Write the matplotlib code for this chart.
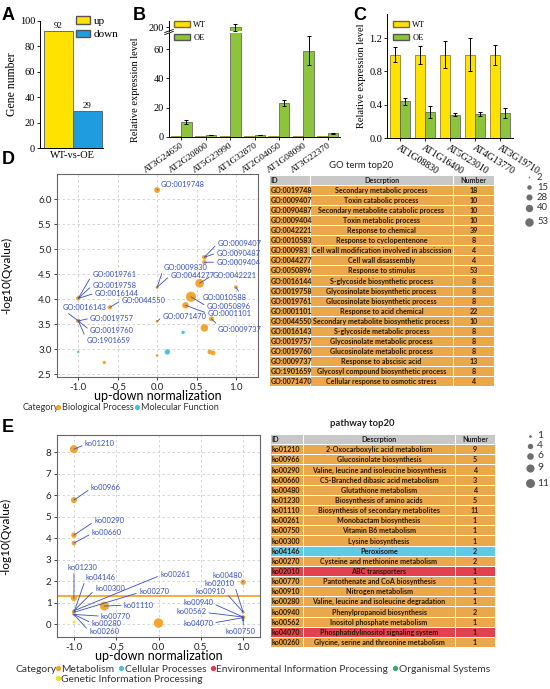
import matplotlib
matplotlib.use("Agg")
import matplotlib.pyplot as plt
from matplotlib.patches import Rectangle, Patch
from matplotlib.lines import Line2D

# ---------------- DATA ----------------
# Panel A
a_group = ["WT-vs-OE"]
a_series = ["up", "down"]
a_values = [92, 29]

# Panel B
b_genes = ["AT3G24650", "AT2G20800", "AT5G23990", "AT1G32870", "AT2G04050", "AT1G08090", "AT3G22370"]
b_wt = [1.0, 1.0, 1.0, 1.0, 1.0, 1.0, 1.0]
b_wt_err = [0.1, 0.1, 0.1, 0.1, 0.1, 0.1, 0.1]
b_oe = [10.5, 1.4, 200.0, 1.5, 23.0, 59.0, 2.6]
b_oe_err = [1.3, 0.2, 4.0, 0.2, 2.0, 10.0, 0.4]

# Panel C
c_genes = ["AT1G08830", "AT1G16400", "AT5G23010", "AT4G13770", "AT3G19710"]
c_wt = [1.0, 1.0, 1.0, 1.0, 1.0]
c_wt_err = [0.09, 0.11, 0.16, 0.20, 0.12]
c_oe = [0.44, 0.31, 0.28, 0.29, 0.30]
c_oe_err = [0.04, 0.07, 0.015, 0.025, 0.055]

# Panel D scatter
go_labels = ["GO:0019748", "GO:0009407", "GO:0090487", "GO:0009404", "GO:0042221",
             "GO:0010588", "GO:0009830", "GO:0044277", "GO:0050896", "GO:0016144",
             "GO:0019758", "GO:0019761", "GO:0001101", "GO:0044550", "GO:0016143",
             "GO:0019757", "GO:0019760", "GO:0009737", "GO:1901659", "GO:0071470",
             "", "", "", "", "", "", "", ""]
go_x = [0.0, 0.6, 0.6, 0.6, 0.54, 1.0, 0.0, 0.0, 0.43, -1.0,
        -1.0, -1.0, 0.36, -0.6, -1.0, -1.0, -1.0, 0.69, -1.0, 0.0,
        0.6, 0.33, 0.13, -1.0, 0.0, 0.67, 0.71, -0.67]
go_y = [6.18, 4.84, 4.84, 4.74, 4.32, 4.24, 4.24, 4.24, 4.05, 4.02,
        4.02, 4.02, 3.88, 3.84, 3.57, 3.57, 3.57, 3.61, 3.57, 3.56,
        3.43, 3.34, 2.95, 2.95, 2.88, 2.95, 2.93, 2.74]
go_count = [18, 10, 10, 10, 39, 8, 4, 4, 53, 8,
            8, 8, 22, 10, 8, 8, 8, 13, 8, 4,
            30, 6, 15, 3, 4, 12, 12, 6]
go_cat = ["Biological Process"] * 20 + ["Biological Process", "Molecular Function",
          "Molecular Function", "Molecular Function", "Biological Process",
          "Biological Process", "Biological Process", "Biological Process"]
go_size_legend = [2, 15, 28, 40, 53]

# Panel D table
go_table_id = ["GO:0019748", "GO:0009407", "GO:0090487", "GO:0009404", "GO:0042221",
               "GO:0010583", "GO:000983", "GO:0044277", "GO:0050896", "GO:0016144",
               "GO:0019758", "GO:0019761", "GO:0001101", "GO:0044550", "GO:0016143",
               "GO:0019757", "GO:0019760", "GO:0009737", "GO:1901659", "GO:0071470"]
go_table_desc = ["Secondary metabolic process", "Toxin catabolic process",
                 "Secondary metabolite catabolic process", "Toxin metabolic process",
                 "Response to chemical", "Response to cyclopentenone",
                 "Cell wall modification involved in abscission", "Cell wall disassembly",
                 "Response to stimulus", "S-glycoside biosynthetic process",
                 "Glycosinolate biosynthetic process", "Glucosinolate biosynthetic process",
                 "Response to acid chemical", "Secondary metabolite biosynthetic process",
                 "S-glycoside metabolic process", "Glycosinolate metabolic process",
                 "Glucosinolate metabolic process", "Response to abscisic acid",
                 "Glycosyl compound biosynthetic process", "Cellular response to osmotic stress"]
go_table_num = [18, 10, 10, 10, 39, 8, 4, 4, 53, 8, 8, 8, 22, 10, 8, 8, 8, 13, 8, 4]

# Panel E scatter
ko_labels = ["ko01210", "ko00966", "ko00290", "ko00660", "ko00480", "ko01230", "ko01110",
             "ko00261", "ko00750", "ko00300", "ko04146", "ko00270", "ko02010", "ko00770",
             "ko00910", "ko00280", "ko00940", "ko00562", "ko04070", "ko00260", "", "", ""]
ko_x = [-1.0, -1.0, -1.0, -1.0, 1.0, -1.0, -0.64, -1.0, 1.0, -1.0, -1.0, -1.0, 1.0, -1.0,
        1.0, -1.0, 1.0, 1.0, 1.0, -1.0, 0.0, -1.0, 1.0]
ko_y = [8.14, 5.77, 4.14, 3.77, 1.95, 1.21, 0.84, 0.62, 0.33, 0.62, 0.55, 0.55, 0.56, 0.45,
        0.56, 0.45, 0.33, 0.33, 0.30, 0.45, 0.05, 0.10, 0.20]
ko_count = [9, 5, 4, 3, 4, 5, 11, 1, 1, 1, 2, 2, 1, 1, 1, 1, 2, 1, 1, 1, 12, 1, 1]
ko_cat = ["Metabolism", "Metabolism", "Metabolism", "Metabolism", "Metabolism", "Metabolism",
          "Metabolism", "Metabolism", "Metabolism", "Metabolism", "Cellular Processes",
          "Metabolism", "Environmental Information Processing", "Metabolism", "Metabolism",
          "Metabolism", "Metabolism", "Metabolism", "Environmental Information Processing",
          "Metabolism", "Metabolism", "Genetic Information Processing", "Organismal Systems"]
ko_size_legend = [1, 4, 6, 9, 11]
ko_threshold = 1.3

# Panel E table
ko_table_id = ["ko01210", "ko00966", "ko00290", "ko00660", "ko00480", "ko01230", "ko01110",
               "ko00261", "ko00750", "ko00300", "ko04146", "ko00270", "ko02010", "ko00770",
               "ko00910", "ko00280", "ko00940", "ko00562", "ko04070", "ko00260"]
ko_table_desc = ["2-Oxocarboxylic acid metabolism", "Glucosinolate biosynthesis",
                 "Valine, leucine and isoleucine biosynthesis", "C5-Branched dibasic acid metabolism",
                 "Glutathione metabolism", "Biosynthesis of amino acids",
                 "Biosynthesis of secondary metabolites", "Monobactam biosynthesis",
                 "Vitamin B6 metabolism", "Lysine biosynthesis", "Peroxisome",
                 "Cysteine and methionine metabolism", "ABC transporters",
                 "Pantothenate and CoA biosynthesis", "Nitrogen metabolism",
                 "Valine, leucine and isoleucine degradation", "Phenylpropanoid biosynthesis",
                 "Inositol phosphate metabolism", "Phosphatidylinositol signaling system",
                 "Glycine, serine and threonine metabolism"]
ko_table_num = [9, 5, 4, 3, 4, 5, 11, 1, 1, 1, 2, 2, 1, 1, 1, 1, 2, 1, 1, 1]
ko_table_cat = ["Metabolism"] * 10 + ["Cellular Processes", "Metabolism",
                "Environmental Information Processing", "Metabolism", "Metabolism",
                "Metabolism", "Metabolism", "Metabolism",
                "Environmental Information Processing", "Metabolism"]

# ---------------- STYLE / LAYOUT ----------------
W, H = 550, 689
fig = plt.figure(figsize=(W / 100, H / 100), dpi=100)
SERIF = ["Liberation Serif", "DejaVu Serif"]
SANS = ["Lato", "DejaVu Sans"]
BOLD = ["Liberation Sans", "DejaVu Sans"]

YEL = "#ffe200"
BLUE = "#1f9be0"
GRN = "#8cc43c"
ORANGE = "#f3a531"
CYAN = "#48c3e6"
RED = "#e8384f"
GREEN = "#2fae6e"
YELC = "#f0e41c"
LBL = "#3550c0"
cat_colors = {"Biological Process": ORANGE, "Molecular Function": CYAN,
              "Metabolism": ORANGE, "Cellular Processes": CYAN,
              "Environmental Information Processing": RED,
              "Organismal Systems": GREEN, "Genetic Information Processing": YELC}
table_colors = {"Metabolism": "#eaa84a", "Cellular Processes": "#5ec9ea",
                "Environmental Information Processing": "#e2424f",
                "Biological Process": "#eaa84a"}


def px_axes(x0, y0, x1, y1, **kw):
    return fig.add_axes([x0 / W, 1 - y1 / H, (x1 - x0) / W, (y1 - y0) / H], **kw)


def ftext(x, y, s, **kw):
    fig.text(x / W, 1 - y / H, s, **kw)


def serif_ticks(ax, size=7):
    for t in ax.get_xticklabels() + ax.get_yticklabels():
        t.set_fontfamily(SERIF)
        t.set_fontsize(size)


# ---------------- Panel A ----------------
axA = px_axes(40, 21, 103, 148)
xa = [-0.2, 0.2]
axA.bar(xa, a_values, width=0.4, color=[YEL, BLUE], edgecolor="#555555", linewidth=0.6)
for x, v in zip(xa, a_values):
    axA.text(x, v + 1.2, str(v), ha="center", va="bottom", fontsize=6.5, family=SERIF)
axA.set_xlim(-0.46, 0.42)
axA.set_ylim(0, 100)
axA.set_yticks([0, 20, 40, 60, 80, 100])
axA.set_xticks([0])
axA.set_xticklabels(a_group)
axA.tick_params(axis="x", length=0, pad=2)
axA.tick_params(axis="y", length=2.5, width=0.6, pad=1)
for s in ["top", "right"]:
    axA.spines[s].set_visible(False)
for s in ["left", "bottom"]:
    axA.spines[s].set_linewidth(0.7)
serif_ticks(axA, 7.5)
axA.set_ylabel("Gene number", family=SERIF, fontsize=8.5, labelpad=1)
fig.legend(handles=[Patch(facecolor=YEL, edgecolor="#555"), Patch(facecolor=BLUE, edgecolor="#555")],
           labels=a_series, loc="upper left", bbox_to_anchor=(76 / W, 1 - 16 / H),
           frameon=False, prop={"family": SERIF, "size": 8},
           handlelength=1.3, handleheight=0.7, handletextpad=0.3, labelspacing=0.35,
           borderpad=0, borderaxespad=0)

# ---------------- Panel B (broken axis) ----------------
axBl = px_axes(169, 33, 340, 137)
axBu = px_axes(169, 21, 340, 31)
axBu.patch.set_visible(False)
xb = list(range(len(b_genes)))
bw = 0.43
for ax in (axBl, axBu):
    ax.bar([x - bw / 2 for x in xb], b_wt, width=bw, color=YEL, edgecolor="#7a6a20", linewidth=0.5)
    ax.bar([x + bw / 2 for x in xb], b_oe, width=bw, color=GRN, edgecolor="#555555", linewidth=0.5)
    ax.errorbar([x + bw / 2 for x in xb], b_oe, yerr=b_oe_err, fmt="none", ecolor="black",
                elinewidth=0.7, capsize=1.5, capthick=0.7)
    ax.set_xlim(-0.5, len(b_genes) - 0.5)
    for s in ["top", "right"]:
        ax.spines[s].set_visible(False)
    ax.spines["left"].set_linewidth(0.7)
    ax.tick_params(axis="y", length=2.5, width=0.6, pad=1)
axBl.set_ylim(0, 71)
axBl.set_yticks([0, 20, 40, 60])
axBl.spines["bottom"].set_linewidth(0.7)
axBl.set_xticks(xb)
axBl.set_xticklabels(b_genes, rotation=35, ha="right", rotation_mode="anchor")
axBl.tick_params(axis="x", length=2, width=0.6, pad=1)
axBu.set_ylim(196, 207)
axBu.set_yticks([200])
axBu.set_xticks([])
axBu.spines["bottom"].set_visible(False)
serif_ticks(axBl, 7.5)
serif_ticks(axBu, 7.5)
for t in axBl.get_xticklabels():
    t.set_fontsize(6.8)
# break marks on the y axis
axBl.plot([-0.025, 0.025], [0.985, 1.015], transform=axBl.transAxes, color="black", lw=0.6, clip_on=False)
axBu.plot([-0.025, 0.025], [-0.15, 0.15], transform=axBu.transAxes, color="black", lw=0.6, clip_on=False)
axBl.set_ylabel("Relative expression level", family=SERIF, fontsize=7.5, labelpad=2)
axBl.yaxis.set_label_coords(-0.17, 0.45)
legB = fig.legend(handles=[Patch(facecolor=YEL, edgecolor="#7a6a20"), Patch(facecolor=GRN, edgecolor="#555")],
                  labels=["WT", "OE"], loc="upper left", bbox_to_anchor=(174 / W, 1 - 21 / H),
                  frameon=False, prop={"family": SERIF, "size": 6},
                  handlelength=1.9, handleheight=0.8, handletextpad=0.4, labelspacing=0.55,
                  borderpad=0, borderaxespad=0)
legB.set_zorder(20)

# ---------------- Panel C ----------------
axC = px_axes(387, 14, 513, 138)
xc = list(range(len(c_genes)))
cw = 0.4
axC.bar([x - cw / 2 for x in xc], c_wt, width=cw, color=YEL, edgecolor="#7a6a20", linewidth=0.5)
axC.bar([x + cw / 2 for x in xc], c_oe, width=cw, color=GRN, edgecolor="#555555", linewidth=0.5)
axC.errorbar([x - cw / 2 for x in xc], c_wt, yerr=c_wt_err, fmt="none", ecolor="black",
             elinewidth=0.7, capsize=1.5, capthick=0.7)
axC.errorbar([x + cw / 2 for x in xc], c_oe, yerr=c_oe_err, fmt="none", ecolor="black",
             elinewidth=0.7, capsize=1.5, capthick=0.7)
axC.set_xlim(-0.5, len(c_genes) - 0.5)
axC.set_ylim(0, 1.49)
axC.set_yticks([0, 0.4, 0.8, 1.2])
axC.set_yticklabels(["0.0", "0.4", "0.8", "1.2"])
axC.set_xticks(xc)
axC.set_xticklabels(c_genes, rotation=-32, ha="left", rotation_mode="anchor")
axC.tick_params(axis="x", length=2, width=0.6, pad=2)
axC.tick_params(axis="y", length=2.5, width=0.6, pad=1)
for s in ["top", "right"]:
    axC.spines[s].set_visible(False)
for s in ["left", "bottom"]:
    axC.spines[s].set_linewidth(0.7)
serif_ticks(axC, 7.5)
for t in axC.get_xticklabels():
    t.set_fontsize(7)
axC.set_ylabel("Relative expression level", family=SERIF, fontsize=7.5, labelpad=2)
fig.legend(handles=[Patch(facecolor=YEL, edgecolor="#7a6a20"), Patch(facecolor=GRN, edgecolor="#555")],
           labels=["WT", "OE"], loc="upper left", bbox_to_anchor=(393 / W, 1 - 21 / H),
           frameon=False, prop={"family": SERIF, "size": 6},
           handlelength=1.9, handleheight=0.8, handletextpad=0.4, labelspacing=0.55,
           borderpad=0, borderaxespad=0)


# ---------------- scatter helper ----------------
def scatter_panel(ax, xs, ys, counts, cats, labels, text_xy, relpos, k, xlim, ylim, yticks, xticks):
    ax.set_axisbelow(True)
    ax.grid(True, color="#cfcfcf", lw=0.6, ls=(0, (3, 3)))
    ax.scatter(xs, ys, s=[k * c for c in counts], c=[cat_colors[c] for c in cats],
               linewidths=0, zorder=3)
    n = 0
    for lab, x, y in zip(labels, xs, ys):
        if not lab:
            continue
        tx, ty = text_xy[n]
        ax.annotate(lab, xy=(x, y), xytext=(tx, ty), textcoords="data", fontsize=5.4,
                    family=SANS, color=LBL, ha="left", va="center", annotation_clip=False,
                    arrowprops=dict(arrowstyle="-", color=LBL, lw=0.6, shrinkA=0, shrinkB=0,
                                    relpos=relpos[n]), zorder=4)
        n += 1
    ax.set_xlim(*xlim)
    ax.set_ylim(*ylim)
    ax.set_xticks(xticks)
    ax.set_xticklabels([f"{v:.1f}" for v in xticks])
    ax.set_yticks(yticks)
    ax.tick_params(length=2, width=0.6, pad=2, labelsize=7, colors="#222222")
    for t in ax.get_xticklabels() + ax.get_yticklabels():
        t.set_fontfamily(SANS)
    for s in ax.spines.values():
        s.set_color("#666666")
        s.set_linewidth(0.8)
    ax.set_xlabel("up-down normalization", family=SANS, fontsize=9, labelpad=-1)
    ax.set_ylabel("-log10(Qvalue)", family=SANS, fontsize=8.5)
    ax.yaxis.set_label_coords(-0.225, 0.5)


# ---------------- Panel D ----------------
axD = px_axes(57, 174, 258, 377)
go_text_xy = [(0.04, 6.30), (0.77, 5.12), (0.75, 4.92), (0.75, 4.74), (0.70, 4.48),
              (0.58, 4.04), (0.08, 4.64), (0.17, 4.48), (0.63, 3.86), (-0.79, 4.12),
              (-0.82, 4.28), (-0.82, 4.50), (0.64, 3.72), (-0.45, 3.98), (-1.20, 3.84),
              (-0.85, 3.62), (-0.85, 3.38), (0.77, 3.40), (-0.89, 3.18), (0.07, 3.66)]
go_relpos = [(0, 0.3), (0, 0.5), (0, 0.5), (0, 0.5), (0, 0.5),
             (0.85, 1), (0, 0.3), (0, 0.5), (0, 0.5), (0, 0.5),
             (0, 0.5), (0, 0.5), (0, 0.5), (0, 0.5), (0.05, 0),
             (0, 0.5), (0, 0.5), (0.05, 0.8), (0, 0.5), (0, 0.5)]
scatter_panel(axD, go_x, go_y, go_count, go_cat, go_labels, go_text_xy, go_relpos, 1.0,
              (-1.27, 1.28), (2.45, 6.5), [2.5, 3.0, 3.5, 4.0, 4.5, 5.0, 5.5, 6.0],
              [-1.0, -0.5, 0.0, 0.5, 1.0])
axD.set_yticklabels([f"{v:.1f}" for v in [2.5, 3.0, 3.5, 4.0, 4.5, 5.0, 5.5, 6.0]])
for t in axD.get_yticklabels():
    t.set_fontfamily(SANS)

# ---------------- Panel E ----------------
axE = px_axes(57, 435, 260, 637)
ko_text_xy = [(-0.87, 8.42), (-0.80, 6.37), (-0.76, 4.84), (-0.79, 4.28), (0.64, 2.28),
              (-1.07, 2.65), (-0.41, 0.88), (0.02, 2.33), (0.79, -0.33), (-0.75, 1.67),
              (-0.86, 2.19), (-0.23, 1.53), (0.54, 1.91), (-0.68, 0.37), (0.44, 1.53),
              (-0.79, 0.05), (0.29, 1.02), (0.21, 0.60), (0.29, 0.05), (-0.82, -0.33)]
ko_relpos = [(0, 0.3), (0, 0.3), (0, 0.3), (0, 0.3), (0.95, 0.2),
             (0.2, 0), (0, 0.5), (0, 0.3), (0.6, 1), (0, 0.3),
             (0, 0.3), (0, 0.3), (1, 0.3), (0, 0.5), (1, 0.3),
             (0, 0.5), (1, 0.3), (1, 0.3), (1, 0.5), (0, 0.5)]
scatter_panel(axE, ko_x, ko_y, ko_count, ko_cat, ko_labels, ko_text_xy, ko_relpos, 3.8,
              (-1.2, 1.2), (-0.6, 8.8), [0, 1, 2, 3, 4, 5, 6, 7, 8],
              [-1.0, -0.5, 0.0, 0.5, 1.0])
axE.axhline(ko_threshold, color="#f0a020", lw=1.2, zorder=2)


# ---------------- tables ----------------
def draw_table(x0, y0, x1, y1, col_w, ids, descs, nums, cats):
    ax = px_axes(x0, y0, x1, y1)
    ax.set_xlim(0, sum(col_w))
    n = len(ids) + 1
    ax.set_ylim(n, 0)
    ax.axis("off")
    edges = [0, col_w[0], col_w[0] + col_w[1], sum(col_w)]
    rows = [("ID", "Descrption", "Number", None)] + list(zip(ids, descs, [str(v) for v in nums], cats))
    for r, (a, b, c, cat) in enumerate(rows):
        fc = "#c8c8c8" if cat is None else table_colors[cat]
        for j in range(3):
            ax.add_patch(Rectangle((edges[j], r), edges[j + 1] - edges[j], 1, facecolor=fc,
                                   edgecolor="white", lw=0.7))
        tc = "#222222" if cat is None else "#2a1a05"
        kw = dict(va="center", fontsize=5.1, family=SANS, color=tc, fontweight="bold")
        ax.text(edges[0] + 1.5, r + 0.55, a, ha="left", **kw)
        ax.text((edges[1] + edges[2]) / 2, r + 0.55, b, ha="center", **kw)
        ax.text((edges[2] + edges[3]) / 2, r + 0.55, c, ha="center", **kw)
    return ax


draw_table(269, 175, 494, 386, [41, 143, 41], go_table_id, go_table_desc, go_table_num,
           ["Biological Process"] * 20)
draw_table(270, 434, 495, 647, [33, 152, 40], ko_table_id, ko_table_desc, ko_table_num,
           ko_table_cat)
ftext(361, 165, "GO term top20", ha="center", va="center", family=SANS, fontsize=6.8, color="#222")
ftext(362, 424, "pathway top20", ha="center", va="center", family=SANS, fontsize=6.8,
      color="#222", fontweight="bold")

# ---------------- overlay: size legends ----------------
ov = fig.add_axes([0, 0, 1, 1], zorder=10)
ov.set_xlim(0, W)
ov.set_ylim(H, 0)
ov.axis("off")
ov.patch.set_alpha(0)
d_leg_y = [177, 187, 197, 208, 222]
for v, yy in zip(go_size_legend, d_leg_y):
    ov.scatter([529], [yy], s=0.7 * v, color="#6e6e6e", linewidths=0)
    ov.text(537, yy, str(v), va="center", ha="left", fontsize=6.8, family=SANS, color="#333")
e_leg_y = [436, 446, 456, 468, 483]
for v, yy in zip(ko_size_legend, e_leg_y):
    ov.scatter([530], [yy], s=3.8 * v, color="#6e6e6e", linewidths=0)
    ov.text(537, yy, str(v), va="center", ha="left", fontsize=7.5, family=SANS, color="#333")

# ---------------- category legends ----------------
def cat_handles(names):
    return [Line2D([], [], marker="o", ls="", color=cat_colors[n], ms=2.8) for n in names]


ftext(23, 408, "Category", ha="left", va="center", family=SANS, fontsize=6.6, color="#333")
d_cats = ["Biological Process", "Molecular Function"]
fig.legend(cat_handles(d_cats), d_cats, loc="center left", bbox_to_anchor=(56 / W, 1 - 408 / H),
           ncol=2, frameon=False, prop={"family": SANS, "size": 6.6}, handlelength=0.5,
           handletextpad=0.1, columnspacing=0.2, borderpad=0, borderaxespad=0, labelcolor="#333")
ftext(15, 669, "Category", ha="left", va="center", family=SANS, fontsize=7.4, color="#333")
e_cats1 = ["Metabolism", "Cellular Processes", "Environmental Information Processing", "Organismal Systems"]
fig.legend(cat_handles(e_cats1), e_cats1, loc="center left", bbox_to_anchor=(55 / W, 1 - 669 / H),
           ncol=4, frameon=False, prop={"family": SANS, "size": 7.4}, handlelength=0.5,
           handletextpad=0.1, columnspacing=0.4, borderpad=0, borderaxespad=0, labelcolor="#333")
e_cats2 = ["Genetic Information Processing"]
fig.legend(cat_handles(e_cats2), e_cats2, loc="center left", bbox_to_anchor=(55 / W, 1 - 679 / H),
           ncol=1, frameon=False, prop={"family": SANS, "size": 7.4}, handlelength=0.5,
           handletextpad=0.1, borderpad=0, borderaxespad=0, labelcolor="#333")

# ---------------- panel letters ----------------
for letter, x, y in [("A", 2, 15), ("B", 133, 15), ("C", 353, 15), ("D", 2, 160), ("E", 2, 428)]:
    ftext(x, y, letter, ha="left", va="center", family=BOLD, fontsize=13, fontweight="bold")

fig.savefig("out.png", dpi=100)
